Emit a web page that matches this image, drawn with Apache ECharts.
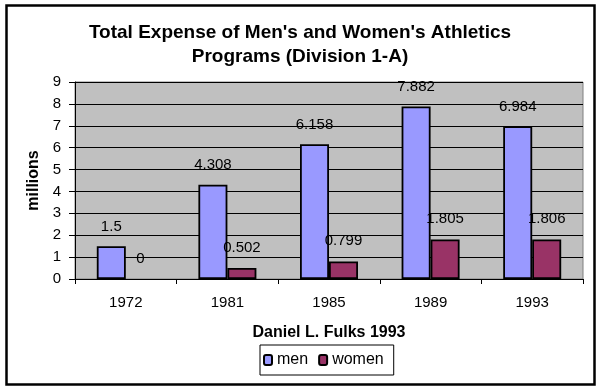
<!DOCTYPE html>
<html><head><meta charset="utf-8">
<script src="https://cdn.jsdelivr.net/npm/echarts@6/dist/echarts.min.js"></script>
<style>html,body{margin:0;padding:0;background:#fff}#c{width:600px;height:390px}</style>
</head><body><div id="c"></div>
<script>
var categories = ['1972', '1981', '1985', '1989', '1993'];
var menValues = [1.5, 4.308, 6.158, 7.882, 6.984];
var womenValues = [0, 0.502, 0.799, 1.805, 1.806];
var yTicks = [0, 1, 2, 3, 4, 5, 6, 7, 8, 9];

function toData(arr) {
  return arr.map(function (v) {
    return v === 0 ? {value: v, itemStyle: {borderWidth: 0}} : v;
  });
}

var chart = echarts.init(document.getElementById('c'), null, {renderer: 'canvas'});
var font = 'Liberation Sans, Arial, sans-serif';
chart.setOption({
  animation: false,
  backgroundColor: '#fff',
  textStyle: {fontFamily: font},
  graphic: [{
    type: 'rect', left: 4, top: 3, z: -1,
    shape: {x: 5, y: 4, width: 588, height: 379},
    style: {fill: 'none', stroke: '#000', lineWidth: 2.5}
  }],
  title: {
    text: "Total Expense of Men's and Women's Athletics\nPrograms (Division 1-A)",
    left: 'center', top: 16,
    textStyle: {fontFamily: font, fontSize: 19, fontWeight: 'bold', color: '#000', lineHeight: 24}
  },
  legend: {
    data: ['men', 'women'],
    left: 260, top: 345,
    width: 137,
    padding: [7, 10, 7, 3],
    itemGap: 10,
    itemWidth: 8, itemHeight: 10,
    borderColor: '#000', borderWidth: 1,
    textStyle: {fontFamily: font, fontSize: 16, color: '#000', padding: [0, 0, 0, 0]}
  },
  grid: {left: 75, right: 17, top: 82, bottom: 111, show: true, backgroundColor: '#C0C0C0', borderColor: '#808080', borderWidth: 1},
  xAxis: {
    type: 'category', data: categories,
    name: 'Daniel L. Fulks 1993', nameLocation: 'middle', nameGap: 46,
    nameTextStyle: {fontFamily: font, fontSize: 16, fontWeight: 'bold', color: '#000'},
    axisLine: {lineStyle: {color: '#000', width: 1}},
    axisTick: {show: true, length: 5, lineStyle: {color: '#000'}},
    axisLabel: {color: '#000', fontSize: 15, margin: 16}
  },
  yAxis: {
    type: 'value', min: yTicks[0], max: yTicks[yTicks.length - 1], interval: 1,
    name: 'millions', nameLocation: 'middle', nameGap: 31, nameRotate: 90,
    nameTextStyle: {fontFamily: font, fontSize: 16, fontWeight: 'bold', color: '#000'},
    axisLine: {show: true, lineStyle: {color: '#000', width: 1}},
    axisTick: {show: true, length: 6, lineStyle: {color: '#000'}},
    axisLabel: {color: '#000', fontSize: 15, margin: 14},
    splitLine: {lineStyle: {color: '#000', width: 1}}
  },
  series: [{
    name: 'men', type: 'bar', data: toData(menValues),
    barWidth: 29, barGap: '0%',
    itemStyle: {color: '#9999FF', borderColor: '#000', borderWidth: 1.8},
    label: {show: true, position: 'top', distance: 12, color: '#000', fontSize: 15, fontFamily: font}
  }, {
    name: 'women', type: 'bar', data: toData(womenValues),
    barWidth: 29,
    itemStyle: {color: '#993366', borderColor: '#000', borderWidth: 1.8},
    label: {show: true, position: 'top', distance: 13, color: '#000', fontSize: 15, fontFamily: font}
  }]
});
</script></body></html>
